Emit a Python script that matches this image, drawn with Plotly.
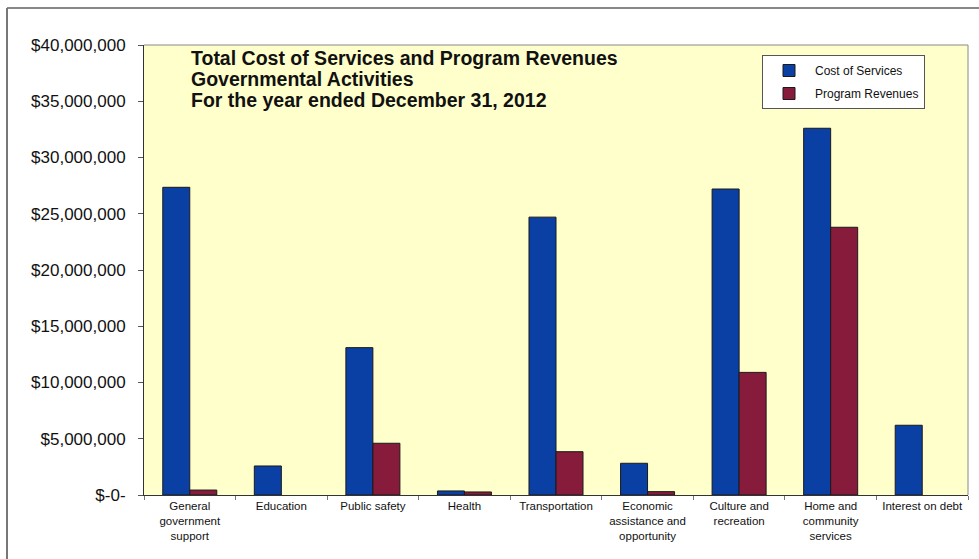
import plotly.graph_objects as go

categories = [
    "General<br>government<br>support",
    "Education",
    "Public safety",
    "Health",
    "Transportation",
    "Economic<br>assistance and<br>opportunity",
    "Culture and<br>recreation",
    "Home and<br>community<br>services",
    "Interest on debt",
]
cost_of_services = [27350000, 2580000, 13100000, 360000, 24700000, 2820000, 27200000, 32600000, 6200000]
program_revenues = [440000, None, 4600000, 270000, 3850000, 300000, 10900000, 23800000, None]

y_tick_vals = [0, 5000000, 10000000, 15000000, 20000000, 25000000, 30000000, 35000000, 40000000]
y_tick_text = ["$-0-", "$5,000,000", "$10,000,000", "$15,000,000", "$20,000,000",
               "$25,000,000", "$30,000,000", "$35,000,000", "$40,000,000"]

title_lines = [
    "Total Cost of Services and Program Revenues",
    "Governmental Activities",
    "For the year ended December 31, 2012",
]

FONT = "Arial, 'Liberation Sans', sans-serif"

fig = go.Figure()
fig.add_trace(go.Bar(
    x=categories, y=cost_of_services, name="Cost of Services",
    marker=dict(color="#0A3FA3", line=dict(color="#1a1a1a", width=1)),
    legendgroup="a",
))
fig.add_trace(go.Bar(
    x=categories, y=program_revenues, name="Program Revenues",
    marker=dict(color="#861B3B", line=dict(color="#1a1a1a", width=1)),
    legendgroup="b",
))

W, H = 979, 559
L, R, T, B = 144, 11, 45, 64
pw = W - L - R
ph = H - T - B

def px_x(p):
    return (p - L) / pw

def px_y(p):
    return (H - B - p) / ph

title_y = [58, 79, 100]
annotations = [
    dict(x=px_x(189), y=px_y(py), xref="paper", yref="paper",
         xanchor="left", yanchor="middle", align="left", showarrow=False,
         text="<b>%s</b>" % s, font=dict(size=19.5, family=FONT, color="#111"))
    for s, py in zip(title_lines, title_y)
]

fig.update_layout(
    width=W, height=H,
    margin=dict(l=L, r=R, t=T, b=B),
    paper_bgcolor="white",
    plot_bgcolor="#FFFFCC",
    barmode="group",
    bargap=0.41,
    bargroupgap=0,
    font=dict(family=FONT, color="#111"),
    showlegend=True,
    legend=dict(
        x=px_x(762), y=px_y(55), xanchor="left", yanchor="top",
        bgcolor="white", bordercolor="#555", borderwidth=1,
        font=dict(size=12, family=FONT, color="#111"),
        tracegroupgap=4,
        itemwidth=42,
        entrywidth=190,
    ),
    xaxis=dict(
        showline=True, linecolor="#333", linewidth=1,
        ticks="outside", tickson="boundaries", ticklen=4, tickcolor="#777",
        tickfont=dict(size=11.5, family=FONT, color="#111"),
        tickangle=0, automargin=False,
        showgrid=False,
    ),
    yaxis=dict(
        range=[0, 40000000],
        tickvals=y_tick_vals, ticktext=y_tick_text,
        showline=True, linecolor="#333", linewidth=1,
        ticks="outside", ticklen=5, tickcolor="#555",
        tickfont=dict(size=17, family=FONT, color="#111"),
        showgrid=False, zeroline=False, automargin=False,
        ticklabelstandoff=9,
    ),
    annotations=annotations,
    shapes=[
        dict(type="line", xref="paper", yref="paper", x0=0, x1=1, y0=1, y1=1,
             line=dict(color="#888", width=1)),
        dict(type="line", xref="paper", yref="paper", x0=1, x1=1, y0=0, y1=1,
             line=dict(color="#888", width=1)),
        dict(type="line", xref="paper", yref="paper", x0=px_x(7), x1=px_x(979), y0=px_y(8), y1=px_y(8),
             line=dict(color="#888", width=2)),
        dict(type="line", xref="paper", yref="paper", x0=px_x(7), x1=px_x(7), y0=px_y(8), y1=px_y(559),
             line=dict(color="#777", width=2)),
    ],
)

fig.write_html("out.html")
